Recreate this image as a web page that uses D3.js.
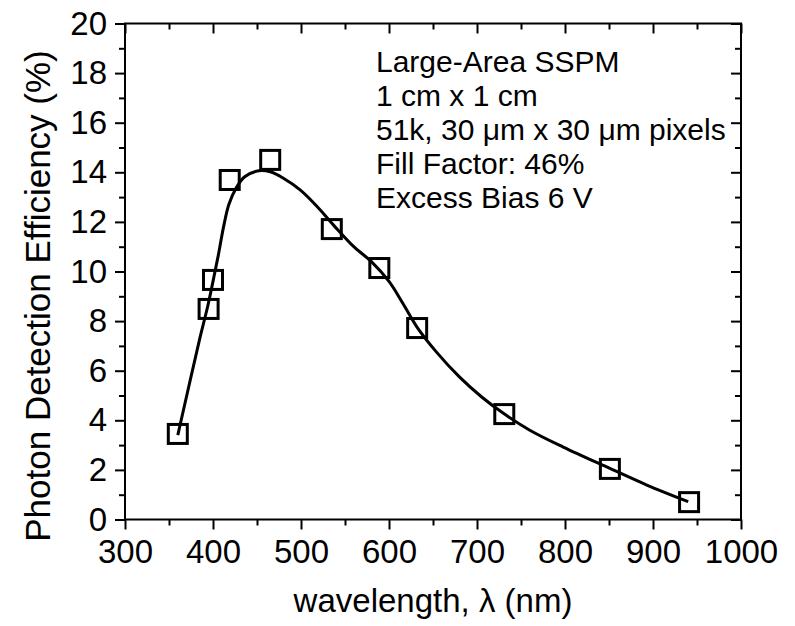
<!DOCTYPE html>
<html lang="en">
<head>
  <meta charset="utf-8">
  <title>Photon Detection Efficiency</title>
  <script src="https://d3js.org/d3.v7.min.js"></script>
  <style>
  body { margin: 0; background: #fff; }
  text { font-family: "Liberation Sans", Arial, sans-serif; fill: #000; }
  </style>
</head>
<body>
  <script>
  // measured points
  var wavelength = [360, 395, 400, 419, 465, 535, 589, 632, 731, 851, 941];
  var pde = [3.45, 8.49, 9.66, 13.69, 14.5, 11.71, 10.14, 7.72, 4.25, 2.04, 0.7];

  // fitted curve
  var fitX = [360, 374, 385, 394, 400, 406, 412, 418, 426, 436, 452, 465, 480, 499, 518, 537, 560, 580, 600, 616, 632, 654, 680, 705, 730, 760, 798, 851, 893, 940];
  var fitY = [3.4, 5.6, 7.3, 8.6, 9.6, 10.65, 11.8, 12.7, 13.35, 13.82, 14.06, 14.02, 13.76, 13.29, 12.63, 11.87, 11.0, 10.4, 9.6, 8.7, 7.75, 6.75, 5.75, 4.95, 4.28, 3.6, 2.92, 2.06, 1.39, 0.72];

  var xTicks = [300, 400, 500, 600, 700, 800, 900, 1000];
  var yTicks = [0, 2, 4, 6, 8, 10, 12, 14, 16, 18, 20];

  var notes = ["Large-Area SSPM", "1 cm x 1 cm", "51k, 30 \u03bcm x 30 \u03bcm pixels", "Fill Factor: 46%", "Excess Bias 6 V"];

  var width = 795, height = 626;
  var pL = 125, pR = 741, pT = 23.5, pB = 519.5;

  var svg = d3.select("body").append("svg")
    .attr("width", width)
    .attr("height", height);

  var x = d3.scaleLinear().domain([300, 1000]).range([pL, pR]);
  var y = d3.scaleLinear().domain([0, 20]).range([pB, pT]);

  var xMinor = d3.range(350, 1000, 100);
  var yMinor = d3.range(1, 20, 2);

  function styleAxis(g) {
    g.select(".domain").remove();
    g.selectAll("line").attr("stroke", "#000").attr("stroke-width", 2);
  }

  // bottom
  svg.append("g").attr("transform", "translate(0," + pB + ")")
    .call(d3.axisBottom(x).tickValues(xTicks).tickSize(10).tickPadding(10).tickFormat(d3.format("d")))
    .call(styleAxis)
    .selectAll("text").attr("font-size", 33).attr("font-family", "Liberation Sans");
  svg.append("g").attr("transform", "translate(0," + pB + ")")
    .call(d3.axisBottom(x).tickValues(xMinor).tickSize(6).tickFormat(""))
    .call(styleAxis);
  // top
  svg.append("g").attr("transform", "translate(0," + pT + ")")
    .call(d3.axisBottom(x).tickValues(xTicks).tickSize(10).tickFormat(""))
    .call(styleAxis);
  svg.append("g").attr("transform", "translate(0," + pT + ")")
    .call(d3.axisBottom(x).tickValues(xMinor).tickSize(6).tickFormat(""))
    .call(styleAxis);
  // left
  svg.append("g").attr("transform", "translate(" + pL + ",0)")
    .call(d3.axisLeft(y).tickValues(yTicks).tickSize(10).tickPadding(8).tickFormat(d3.format("d")))
    .call(styleAxis)
    .selectAll("text").attr("font-size", 33).attr("font-family", "Liberation Sans");
  svg.append("g").attr("transform", "translate(" + pL + ",0)")
    .call(d3.axisLeft(y).tickValues(yMinor).tickSize(6).tickFormat(""))
    .call(styleAxis);
  // right
  svg.append("g").attr("transform", "translate(" + pR + ",0)")
    .call(d3.axisLeft(y).tickValues(yTicks).tickSize(10).tickFormat(""))
    .call(styleAxis);
  svg.append("g").attr("transform", "translate(" + pR + ",0)")
    .call(d3.axisLeft(y).tickValues(yMinor).tickSize(6).tickFormat(""))
    .call(styleAxis);

  // frame
  svg.append("rect")
    .attr("x", pL).attr("y", pT)
    .attr("width", pR - pL).attr("height", pB - pT)
    .attr("fill", "none").attr("stroke", "#000").attr("stroke-width", 2);

  // fit curve
  var line = d3.line()
    .x(function(d, i) { return x(fitX[i]); })
    .y(function(d, i) { return y(fitY[i]); })
    .curve(d3.curveCatmullRom.alpha(0.5));
  svg.append("path")
    .datum(fitX)
    .attr("d", line)
    .attr("fill", "none")
    .attr("stroke", "#000")
    .attr("stroke-width", 3);

  // square markers
  var s = 19;
  svg.append("g").selectAll("rect")
    .data(wavelength)
    .enter()
    .append("rect")
    .attr("x", function(d) { return x(d) - s / 2; })
    .attr("y", function(d, i) { return y(pde[i]) - s / 2; })
    .attr("width", s).attr("height", s)
    .attr("fill", "none")
    .attr("stroke", "#000")
    .attr("stroke-width", 3);

  // annotation
  svg.append("g").selectAll("text")
    .data(notes)
    .enter()
    .append("text")
    .attr("x", 376)
    .attr("y", function(d, i) { return 72 + i * 34; })
    .attr("font-size", 30)
    .text(function(d) { return d; });

  // axis titles
  svg.append("text")
    .attr("x", (pL + pR) / 2)
    .attr("y", 612)
    .attr("text-anchor", "middle")
    .attr("font-size", 33)
    .text("wavelength, \u03bb (nm)");

  svg.append("text")
    .attr("transform", "translate(50," + 296 + ") rotate(-90)")
    .attr("text-anchor", "middle")
    .attr("font-size", 35)
    .text("Photon Detection Efficiency (%)");
  </script>
</body>
</html>
